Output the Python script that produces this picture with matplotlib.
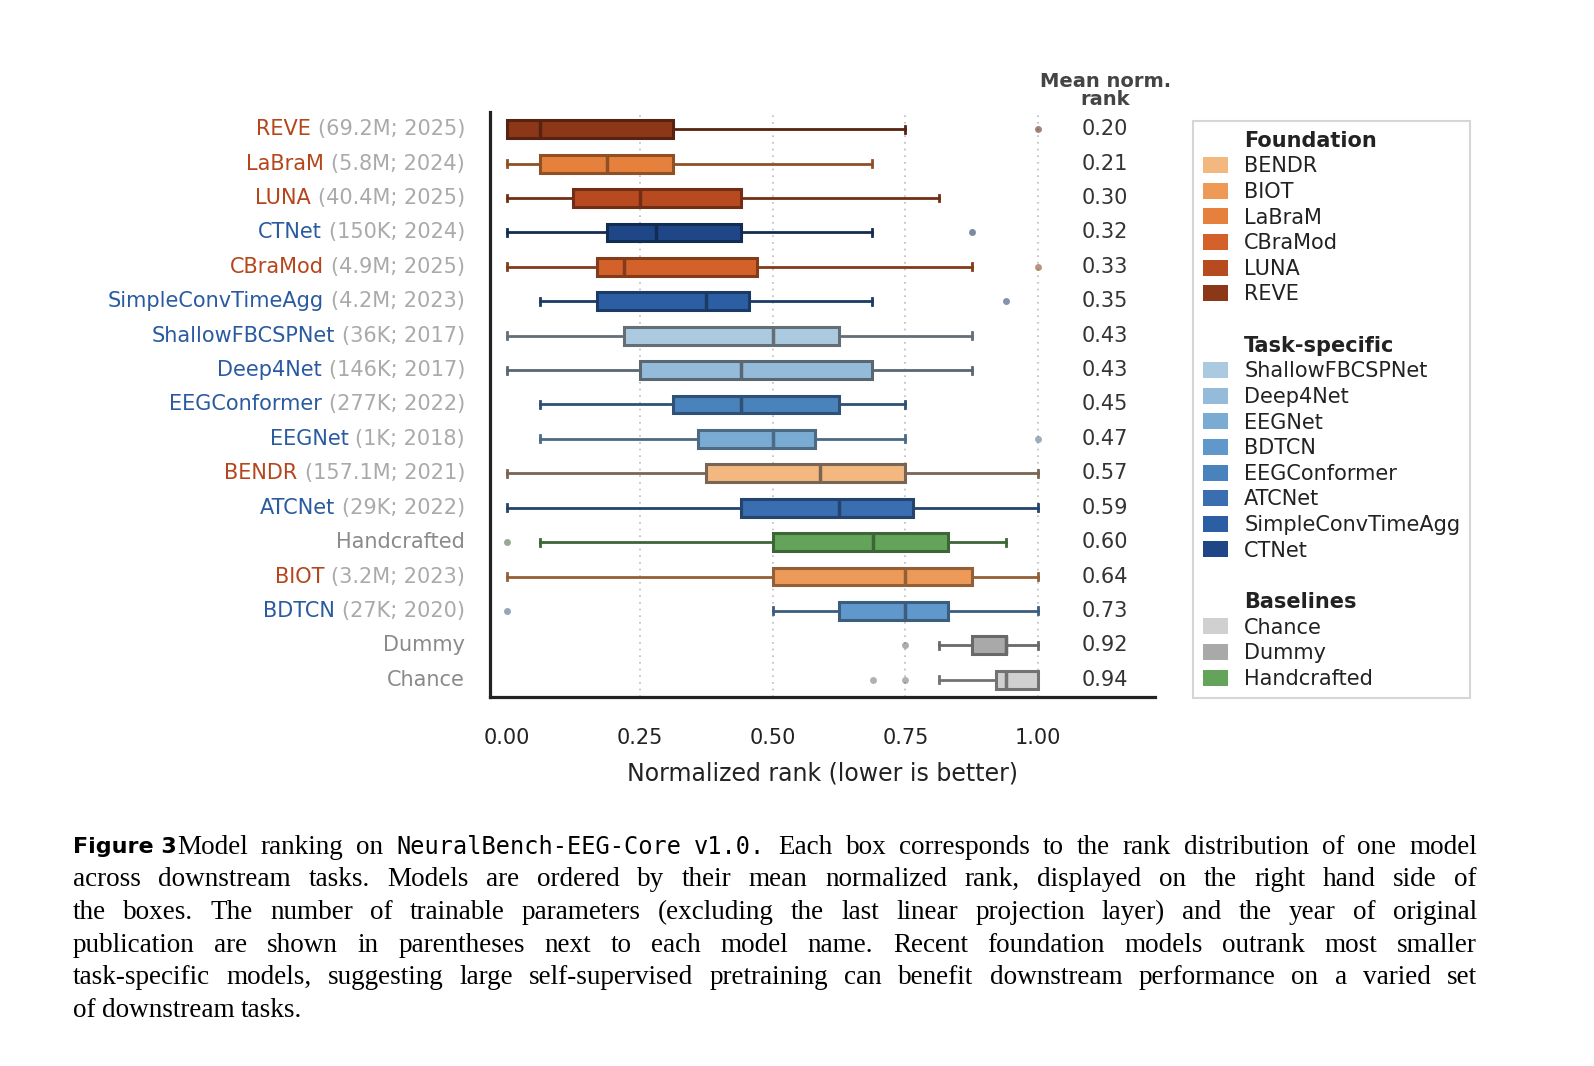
import matplotlib
matplotlib.use("Agg")
import matplotlib.pyplot as plt
from matplotlib.patches import Patch
from matplotlib.colors import to_rgb

# ----------------------------
# data
# ----------------------------
models = ["REVE", "LaBraM", "LUNA", "CTNet", "CBraMod", "SimpleConvTimeAgg",
          "ShallowFBCSPNet", "Deep4Net", "EEGConformer", "EEGNet", "BENDR",
          "ATCNet", "Handcrafted", "BIOT", "BDTCN", "Dummy", "Chance"]
meta = ["(69.2M; 2025)", "(5.8M; 2024)", "(40.4M; 2025)", "(150K; 2024)",
        "(4.9M; 2025)", "(4.2M; 2023)", "(36K; 2017)", "(146K; 2017)",
        "(277K; 2022)", "(1K; 2018)", "(157.1M; 2021)", "(29K; 2022)", "",
        "(3.2M; 2023)", "(27K; 2020)", "", ""]
group = ["F", "F", "F", "T", "F", "T", "T", "T", "T", "T", "F", "T", "B",
         "F", "T", "B", "B"]
whislo = [0, 0, 0, 0, 0, 0.0625, 0, 0, 0.0625, 0.0625, 0, 0, 0.0625, 0, 0.5, 0.8125, 0.8125]
q1 = [0, 0.0625, 0.125, 0.1875, 0.17, 0.17, 0.22, 0.25, 0.3125, 0.36, 0.375, 0.44, 0.5, 0.5, 0.625, 0.875, 0.92]
med = [0.0625, 0.1875, 0.25, 0.28, 0.22, 0.375, 0.5, 0.44, 0.44, 0.5, 0.59, 0.625, 0.69, 0.75, 0.75, 0.94, 0.94]
q3 = [0.3125, 0.3125, 0.44, 0.44, 0.47, 0.455, 0.625, 0.6875, 0.625, 0.58, 0.75, 0.765, 0.83, 0.875, 0.83, 0.94, 1.0]
whishi = [0.75, 0.6875, 0.8125, 0.6875, 0.875, 0.6875, 0.875, 0.875, 0.75, 0.75, 1.0, 1.0, 0.94, 1.0, 1.0, 1.0, 1.0]
fliers = [[1.0], [], [], [0.875], [1.0], [0.94], [], [], [], [1.0], [], [], [0.0], [], [0.0], [0.75], [0.69, 0.75]]
mean_rank = [0.20, 0.21, 0.30, 0.32, 0.33, 0.35, 0.43, 0.43, 0.45, 0.47, 0.57,
             0.59, 0.60, 0.64, 0.73, 0.92, 0.94]
colors = {"REVE": "#8c3718", "LaBraM": "#e6813d", "LUNA": "#b84a20", "CTNet": "#1f4788",
          "CBraMod": "#d4602a", "SimpleConvTimeAgg": "#2c5ea3", "ShallowFBCSPNet": "#abcae0",
          "Deep4Net": "#94bcda", "EEGConformer": "#4a82bc", "EEGNet": "#7aabd3",
          "BENDR": "#f3b880", "ATCNet": "#3a6eb0", "Handcrafted": "#64a35a",
          "BIOT": "#ed9a58", "BDTCN": "#6098cb", "Dummy": "#a9a9a9", "Chance": "#d0d0d0"}
legend_groups = [("Foundation", ["BENDR", "BIOT", "LaBraM", "CBraMod", "LUNA", "REVE"]),
                 ("Task-specific", ["ShallowFBCSPNet", "Deep4Net", "EEGNet", "BDTCN",
                                    "EEGConformer", "ATCNet", "SimpleConvTimeAgg", "CTNet"]),
                 ("Baselines", ["Chance", "Dummy", "Handcrafted"])]
label_colors = {"F": "#b5451b", "T": "#2a5aa0", "B": "#8a8a8a"}

caption = [
    "Model ranking on @NeuralBench-EEG-Core @v1.0. Each box corresponds to the rank distribution of one model",
    "across downstream tasks. Models are ordered by their mean normalized rank, displayed on the right hand side of",
    "the boxes. The number of trainable parameters (excluding the last linear projection layer) and the year of original",
    "publication are shown in parentheses next to each model name. Recent foundation models outrank most smaller",
    "task-specific models, suggesting large self-supervised pretraining can benefit downstream performance on a varied set",
    "of downstream tasks.",
]


def darker(c, f=0.6):
    r, g, b = to_rgb(c)
    return (r * f, g * f, b * f)


def greyish(c):
    r, g, b = to_rgb(c)
    m = (r + g + b) / 3
    return tuple(0.55 * (0.6 * x + 0.4 * m) for x in (r, g, b))


plt.rcParams["font.family"] = ["DejaVu Sans"]
fig = plt.figure(figsize=(15.94, 10.66), dpi=100)
ax = fig.add_axes([0.3074, 0.3462, 0.4172, 0.5487])

for i, m in enumerate(models):
    c = colors[m]
    ec = darker(c, 0.62) if sum(to_rgb(c)) < 2.0 else greyish(c)
    st = [dict(whislo=whislo[i], q1=q1[i], med=med[i], q3=q3[i], whishi=whishi[i],
               fliers=fliers[i])]
    ax.bxp(st, positions=[i], widths=0.52, vert=False, patch_artist=True,
           boxprops=dict(facecolor=c, edgecolor=ec, linewidth=2.2),
           medianprops=dict(color=ec, linewidth=2.5),
           whiskerprops=dict(color=ec, linewidth=2),
           capprops=dict(color=ec, linewidth=2),
           flierprops=dict(marker="o", markersize=5, markerfacecolor=ec,
                           markeredgecolor="none", alpha=0.55),
           capwidths=0.2, manage_ticks=False)
    ax.text(1.126, i, f"{mean_rank[i]:.2f}", ha="center", va="center",
            fontsize=15, color="#333333")

ax.text(1.126, -0.6, "Mean norm.\nrank", ha="center", va="bottom", fontsize=14,
        fontweight="bold", color="#444444", linespacing=0.9)

ax.set_xlim(-0.032, 1.22)
ax.set_ylim(16.5, -0.5)
for x in [0.25, 0.5, 0.75, 1.0]:
    ax.axvline(x, color="#bbbbbb", linestyle=(0, (1, 3)), linewidth=1.2, zorder=0)
ax.set_xticks([0, 0.25, 0.5, 0.75, 1.0])
ax.set_xticklabels(["0.00", "0.25", "0.50", "0.75", "1.00"])
ax.tick_params(axis="x", length=0, labelsize=15, pad=22, colors="#222222")
ax.set_yticks([])
ax.set_xlabel("Normalized rank (lower is better)", fontsize=17, labelpad=10, color="#222222")
for s in ["top", "right"]:
    ax.spines[s].set_visible(False)
for s in ["left", "bottom"]:
    ax.spines[s].set_linewidth(2.3)
    ax.spines[s].set_color("#222222")

# two-colour y labels
fig.canvas.draw()
r = fig.canvas.get_renderer()
inv = ax.transData.inverted()
x_right = inv.transform((465, 0))[0]
for i, m in enumerate(models):
    xr = x_right
    if meta[i]:
        t = ax.text(xr, i, meta[i], ha="right", va="center", fontsize=15, color="#aaaaaa")
        w = t.get_window_extent(r).width
        px = ax.transData.transform((xr, 0))[0] - w - 7
        xr = inv.transform((px, 0))[0]
    ax.text(xr, i, m, ha="right", va="center", fontsize=15, color=label_colors[group[i]])

# legend
handles, labels = [], []
blank = Patch(facecolor="none", edgecolor="none")
for gi, (title, items) in enumerate(legend_groups):
    if gi > 0:
        handles.append(blank); labels.append("")
    handles.append(blank); labels.append(title)
    for it in items:
        handles.append(Patch(facecolor=colors[it], edgecolor="none")); labels.append(it)
leg = fig.legend(handles, labels, loc="upper left", bbox_to_anchor=(0.742, 0.896),
                 fontsize=15, frameon=True, handlelength=1.2, handleheight=0.8,
                 labelspacing=0.27, borderpad=0.45, handletextpad=0.8, fancybox=False)
leg.get_frame().set_edgecolor("#cccccc")
leg.get_frame().set_linewidth(1.5)
for t in leg.get_texts():
    if t.get_text() in [g[0] for g in legend_groups]:
        t.set_fontweight("bold")
    t.set_color("#222222")

# caption, justified word by word
left_px, right_px = 73, 1477
top_px, step_px = 847, 32.7
W, H = fig.bbox.width, fig.bbox.height
fig.text(left_px / W, 1 - top_px / H, "Figure 3", fontsize=16, fontweight="bold",
         va="center", ha="left")
fig.canvas.draw()
for li, line in enumerate(caption):
    y = 1 - (top_px + li * step_px) / H
    start = left_px + (104 if li == 0 else 0)
    words = line.split(" ")
    arts = []
    for wd in words:
        if wd.startswith("@"):
            a = fig.text(0, y, wd[1:], fontsize=17, family="DejaVu Sans Mono",
                         va="center", ha="left")
        else:
            a = fig.text(0, y, wd, fontsize=19.5, family="Liberation Serif",
                         va="center", ha="left")
        arts.append(a)
    widths = [a.get_window_extent(r).width for a in arts]
    last = li == len(caption) - 1
    gap = 6 if last else (right_px - start - sum(widths)) / (len(words) - 1)
    x = start
    for a, w in zip(arts, widths):
        a.set_x(x / W)
        x += w + gap

fig.savefig("out.png", dpi=100)
